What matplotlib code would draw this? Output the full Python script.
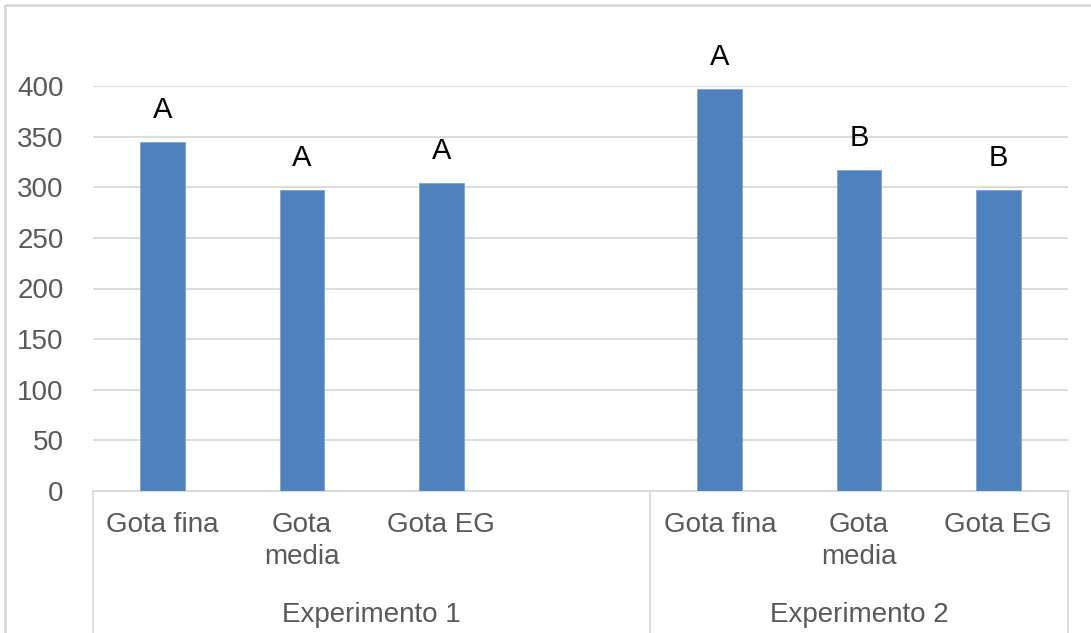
import numpy as np
import matplotlib.pyplot as plt
from matplotlib import transforms
from matplotlib.lines import Line2D

plt.rcParams['font.family'] = ['Liberation Sans', 'DejaVu Sans']

experiments = ["Experimento 1", "Experimento 2"]
treatments = ["Gota fina", "Gota\nmedia", "Gota EG"]
exp1_values = [345, 297, 304]
exp2_values = [397, 317, 297]
exp1_letters = ["A", "A", "A"]
exp2_letters = ["A", "B", "B"]
yticks = [0, 50, 100, 150, 200, 250, 300, 350, 400]

bar_color = "#4F81BD"
grid_color = "#D9D9D9"
text_gray = "#595959"

W, H = 1091, 633
fig = plt.figure(figsize=(W / 100, H / 100), dpi=100)
ax = fig.add_axes([93 / W, 142 / H, (1068 - 93) / W, 405 / H])

# experiment 1 sits in 4 slots (last one empty), experiment 2 in 3
x1 = np.arange(3)
x2 = np.arange(3) + 4
groups = [(x1, exp1_values, exp1_letters), (x2, exp2_values, exp2_letters)]

for xs, vals, lets in groups:
    ax.bar(xs, vals, width=0.32, color=bar_color, edgecolor="#7FA3D6",
           linewidth=0.6, zorder=3)
    for x, v, l in zip(xs, vals, lets):
        ax.annotate(l, (x, v), xytext=(0, 13), textcoords="offset points",
                    ha="center", va="bottom", fontsize=21, color="black",
                    annotation_clip=False)

ax.set_xlim(-0.5, 6.5)
ax.set_ylim(0, 400)
ax.set_yticks(yticks)
ax.set_yticklabels([str(t) for t in yticks])
ax.tick_params(axis="y", length=0, pad=21, labelsize=20, labelcolor=text_gray)
ax.set_xticks([])
ax.grid(axis="y", color=grid_color, linewidth=1.3, zorder=0)
for s in ["top", "right", "left"]:
    ax.spines[s].set_visible(False)
ax.spines["bottom"].set_color(grid_color)
ax.spines["bottom"].set_linewidth(1.3)

# treatment labels under each bar
for xs in (x1, x2):
    for x, t in zip(xs, treatments):
        ax.annotate(t, (x, 0), xycoords=("data", "axes fraction"),
                    xytext=(0, -15), textcoords="offset points",
                    ha="center", va="top", fontsize=20, color=text_gray,
                    linespacing=1.3, annotation_clip=False)

# experiment labels and separators
for name, (a, b) in zip(experiments, [(-0.5, 3.5), (3.5, 6.5)]):
    ax.annotate(name, ((a + b) / 2, 0), xycoords=("data", "axes fraction"),
                xytext=(0, -89), textcoords="offset points",
                ha="center", va="center", fontsize=20, color=text_gray,
                annotation_clip=False)

trans = transforms.blended_transform_factory(ax.transData, fig.transFigure)
for xv in (-0.5, 3.5, 6.5):
    fig.add_artist(Line2D([xv, xv], [0, 142 / H], transform=trans,
                          color=grid_color, linewidth=1.3))

# chart border
fig.add_artist(Line2D([5 / W, 5 / W, 1.0], [0, 1 - 5 / H, 1 - 5 / H],
                      transform=fig.transFigure, color=grid_color, linewidth=2))

fig.savefig("out.png", dpi=100)
